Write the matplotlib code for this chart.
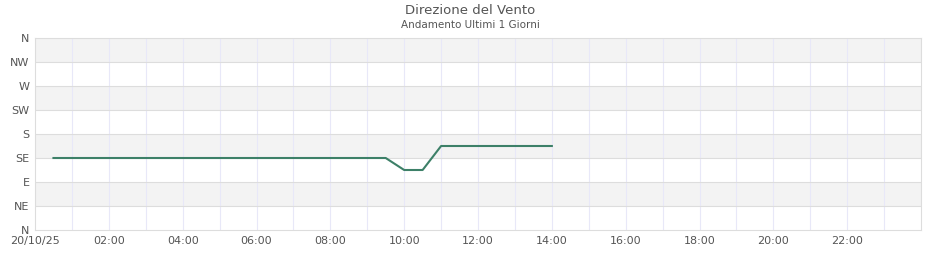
import matplotlib
matplotlib.use("Agg")
import matplotlib.pyplot as plt
import numpy as np

# Data: hours since 20/10/25 00:00, wind direction in degrees
hours = [0.5, 1.0, 1.5, 2.0, 2.5, 3.0, 3.5, 4.0, 4.5, 5.0, 5.5, 6.0, 6.5, 7.0,
         7.5, 8.0, 8.5, 9.0, 9.5, 10.0, 10.5, 11.0, 11.5, 12.0, 12.5, 13.0,
         13.5, 14.0]
direction = [135, 135, 135, 135, 135, 135, 135, 135, 135, 135, 135, 135, 135,
             135, 135, 135, 135, 135, 135, 112.5, 112.5, 157.5, 157.5, 157.5,
             157.5, 157.5, 157.5, 157.5]

y_ticks = [0, 45, 90, 135, 180, 225, 270, 315, 360]
y_labels = ["N", "NE", "E", "SE", "S", "SW", "W", "NW", "N"]
x_ticks = [0, 2, 4, 6, 8, 10, 12, 14, 16, 18, 20, 22]
x_labels = ["20/10/25", "02:00", "04:00", "06:00", "08:00", "10:00", "12:00",
            "14:00", "16:00", "18:00", "20:00", "22:00"]

fig = plt.figure(figsize=(9.4, 2.6), dpi=100)
ax = fig.add_axes([35/940, 1-230/260, (921-35)/940, (230-38)/260])

# alternating bands
for i in range(len(y_ticks) - 1):
    if i % 2 == 1:
        ax.axhspan(y_ticks[i], y_ticks[i+1], color="#f3f3f3", zorder=0, lw=0)

for h in range(1, 24):
    ax.axvline(h, color="#e8e8f8", lw=0.8, zorder=1)
for v in y_ticks[1:-1]:
    ax.axhline(v, color="#dddddd", lw=0.8, zorder=1)

ax.plot(hours, direction, color="#3d8068", lw=1.5, zorder=3)

ax.set_xlim(0, 24)
ax.set_ylim(0, 360)
ax.set_yticks(y_ticks)
ax.set_yticklabels(y_labels)
ax.set_xticks(x_ticks)
ax.set_xticklabels(x_labels)
ax.tick_params(axis="both", length=0, labelsize=8, colors="#555555", pad=4)
for s in ax.spines.values():
    s.set_color("#dddddd")
    s.set_linewidth(0.8)

fig.text(0.5, 1-11/260, "Direzione del Vento", ha="center", va="center",
         fontsize=9.5, color="#555555")
fig.text(0.5, 1-25/260, "Andamento Ultimi 1 Giorni", ha="center", va="center",
         fontsize=7.5, color="#555555")

fig.savefig("out.png", dpi=100)
